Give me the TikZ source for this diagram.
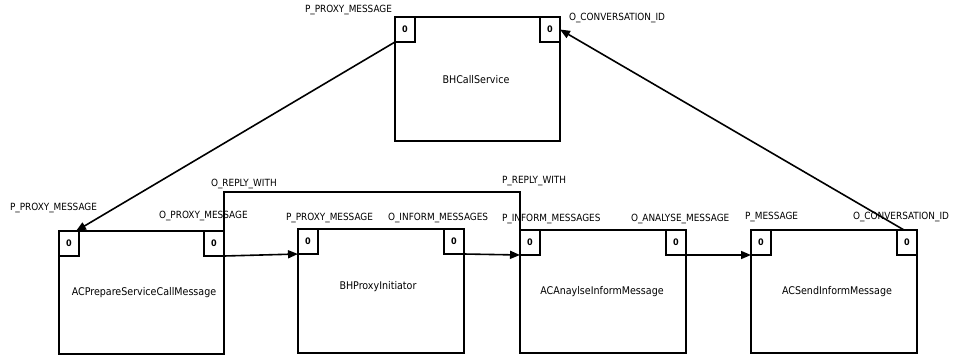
\documentclass[tikz,border=0pt]{standalone}
\usepackage{fontspec}
\setmainfont{DejaVu Sans Condensed}
\usetikzlibrary{arrows.meta,calc}
\begin{document}
\begin{tikzpicture}[x=1pt,y=-1pt,
  every node/.style={inner sep=0pt,outer sep=0pt},
  box/.style={draw=black,line width=1.6pt,anchor=north west,minimum width=166pt,minimum height=124pt},
  port/.style={draw=black,line width=1.4pt,minimum width=20pt,minimum height=25pt,font=\fontsize{9}{9}\selectfont\bfseries},
  lbl/.style={anchor=west,font=\fontsize{9.9}{10}\selectfont},
  title/.style={font=\fontsize{10.6}{11}\selectfont},
  conn/.style={line width=1.6pt,-{Triangle[length=10pt,width=8pt]}},
  wire/.style={line width=1.6pt}
]
\useasboundingbox (0,0) rectangle (958,357);

% boxes
\node[box,minimum width=165pt] (b1) at (395,17) {};
\node[box,minimum width=165pt,minimum height=123pt] (b2) at (59,231) {};
\node[box,minimum height=124pt] (b3) at (298,229) {};
\node[box,minimum height=123pt] (b4) at (520,230) {};
\node[box,minimum height=123pt] (b5) at (751,230) {};

% ports
\node[port,anchor=north west] (b1in) at (b1.north west) {0};
\node[port,anchor=north east] (b1out) at (b1.north east) {0};
\node[port,anchor=north west] (b2in) at (b2.north west) {0};
\node[port,anchor=north east] (b2out) at (b2.north east) {0};
\node[port,anchor=north west] (b3in) at (b3.north west) {0};
\node[port,anchor=north east] (b3out) at (b3.north east) {0};
\node[port,anchor=north west] (b4in) at (b4.north west) {0};
\node[port,anchor=north east] (b4out) at (b4.north east) {0};
\node[port,anchor=north west] (b5in) at (b5.north west) {0};
\node[port,anchor=north east] (b5out) at (b5.north east) {0};

% box titles
\node[title] (t1) at (476,80) {BHCallService};
\node[title] (t2) at (144,293) {ACPrepareServiceCallMessage};
\node[title] (t3) at (378,287) {BHProxyInitiator};
\node[title] (t4) at (602,292) {ACAnaylseInformMessage};
\node[title] (t5) at (837,292) {ACSendInformMessage};

% port labels
\node[lbl] (l1) at (305,10) {P\_PROXY\_MESSAGE};
\node[lbl] (l2) at (569,18) {O\_CONVERSATION\_ID};
\node[lbl] (l3) at (10,208) {P\_PROXY\_MESSAGE};
\node[lbl] (l4) at (159,216) {O\_PROXY\_MESSAGE};
\node[lbl] (l5) at (211,184) {O\_REPLY\_WITH};
\node[lbl] (l6) at (286,218) {P\_PROXY\_MESSAGE};
\node[lbl] (l7) at (388,218) {O\_INFORM\_MESSAGES};
\node[lbl] (l8) at (502,181) {P\_REPLY\_WITH};
\node[lbl] (l9) at (502,219) {P\_INFORM\_MESSAGES};
\node[lbl] (l10) at (631,219) {O\_ANALYSE\_MESSAGE};
\node[lbl] (l11) at (745,217) {P\_MESSAGE};
\node[lbl] (l12) at (853,217) {O\_CONVERSATION\_ID};

% connectors
\coordinate (rw) at (0,192);
\draw[conn] (b1in.south west) -- ($(b2in.north west)!0.85!(b2in.north east)$);
\draw[conn] ($(b5out.north west)!0.35!(b5out.north east)$) -- (b1out.east);
\draw[conn] (b2out.south east) -- (b3in.south west);
\draw[conn] (b3out.south east) -- (b4in.south west);
\draw[conn] (b4out.south east) -- (b5in.south west);
\draw[wire] (b2out.north east) |- (b4in.north west |- rw) -- (b4in.north west);
\end{tikzpicture}
\end{document}
